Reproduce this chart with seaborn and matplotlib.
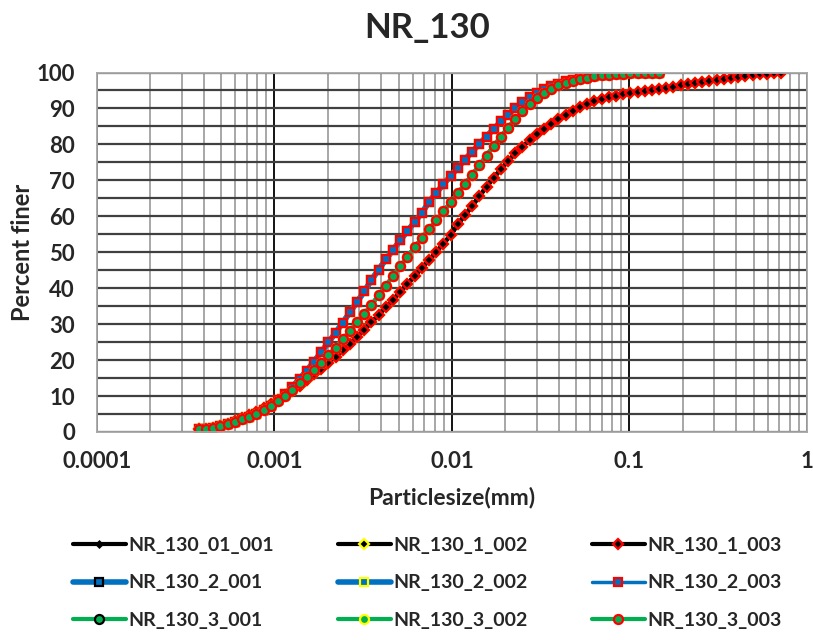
import matplotlib
matplotlib.use("Agg")
import matplotlib.pyplot as plt
from matplotlib.ticker import FixedLocator, NullFormatter
import seaborn as sns

# particle size classes (mm)
size_mm = [
    0.000375, 0.000412, 0.000452, 0.000496, 0.000545, 0.000598, 0.000657, 0.000721,
    0.000791, 0.000869, 0.000953, 0.001047, 0.001149, 0.001261, 0.001385, 0.00152,
    0.001669, 0.001832, 0.002011, 0.002208, 0.002423, 0.00266, 0.00292, 0.003206,
    0.003519, 0.003863, 0.00424, 0.004655, 0.00511, 0.00561, 0.006158, 0.00676,
    0.007421, 0.008147, 0.008943, 0.009818, 0.01078, 0.01183, 0.01299, 0.01426,
    0.01565, 0.01718, 0.01886, 0.02071, 0.02273, 0.02495, 0.02739, 0.03007,
    0.03301, 0.03624, 0.03978, 0.04367, 0.04794, 0.05262, 0.05777, 0.06341,
    0.06961, 0.07642, 0.08389, 0.09209, 0.1011, 0.111, 0.1218, 0.1337,
    0.1468, 0.1612, 0.1769, 0.1942, 0.2132, 0.2341, 0.2569, 0.2821,
    0.3096, 0.3399, 0.3731, 0.4096, 0.4497, 0.4936, 0.5419, 0.5949,
    0.653, 0.7169,
]

# percent finer, sample 1 (up to 0.72 mm)
finer_1 = [
    0.7, 0.9, 1.2, 1.7, 2.3, 3.0, 3.8, 4.7, 5.7, 6.8, 7.9, 9.0,
    10.2, 11.5, 12.9, 14.4, 16.0, 17.6, 19.3, 21.0, 22.8, 24.6, 26.5, 28.5,
    30.5, 32.6, 34.7, 36.8, 39.0, 41.2, 43.4, 45.6, 47.8, 50.1, 52.4, 54.7,
    57.8, 60.3, 62.9, 65.6, 68.2, 70.7, 73.1, 75.4, 77.5, 79.4, 81.2, 82.9,
    84.4, 85.8, 87.1, 88.3, 89.4, 90.4, 91.3, 92.0, 92.7, 93.2, 93.6, 94.0,
    94.3, 94.6, 94.9, 95.2, 95.5, 95.8, 96.1, 96.4, 96.7, 97.0, 97.3, 97.6,
    97.9, 98.2, 98.5, 98.8, 99.1, 99.3, 99.5, 99.7, 99.9, 100.0,
]

# percent finer, sample 2 (up to 0.15 mm)
finer_2 = [
    0.8, 0.9, 1.1, 1.6, 2.2, 2.8, 3.5, 4.3, 5.1, 6.1, 7.3, 8.8,
    10.6, 12.6, 14.8, 17.1, 19.6, 22.2, 24.9, 27.6, 30.4, 33.3, 36.2, 39.1,
    42.3, 45.2, 48.0, 50.7, 53.3, 55.9, 58.4, 60.9, 64.0, 66.5, 68.9, 71.2,
    73.5, 75.8, 78.0, 80.1, 82.2, 84.3, 86.4, 88.3, 90.1, 91.7, 93.1, 94.3,
    95.3, 96.2, 96.9, 97.5, 98.0, 98.4, 98.7, 99.0, 99.3, 99.5, 99.6, 99.7,
    99.8, 99.9, 100.0, 100.0, 100.0,
]

# percent finer, sample 3 (up to 0.15 mm)
finer_3 = [
    0.8, 0.9, 1.1, 1.6, 2.2, 2.8, 3.5, 4.3, 5.1, 6.1, 7.3, 8.6,
    10.1, 11.8, 13.6, 15.4, 17.3, 19.3, 21.4, 23.5, 25.8, 28.1, 30.5, 32.9,
    35.4, 38.0, 40.7, 43.4, 46.1, 48.8, 51.4, 53.9, 56.4, 58.9, 61.4, 63.9,
    66.4, 69.0, 71.6, 74.2, 76.9, 79.6, 82.2, 84.7, 87.1, 89.3, 91.3, 93.0,
    94.4, 95.5, 96.4, 97.1, 97.7, 98.2, 98.6, 98.9, 99.2, 99.4, 99.6, 99.7,
    99.8, 99.9, 100.0, 100.0, 100.0,
]

series_names = [
    "NR_130_01_001", "NR_130_1_002", "NR_130_1_003",
    "NR_130_2_001", "NR_130_2_002", "NR_130_2_003",
    "NR_130_3_001", "NR_130_3_002", "NR_130_3_003",
]
series_data = [finer_1, finer_1, finer_1,
               finer_2, finer_2, finer_2,
               finer_3, finer_3, finer_3]

# (line color, line width, marker, marker size, face, edge)
styles = [
    ("black", 3.0, "D", 3.0, "black", "black"),
    ("black", 3.0, "D", 5.0, "black", "#FFFF00"),
    ("black", 3.0, "D", 5.0, "black", "#FF0000"),
    ("#0070C0", 4.0, "s", 5.5, "#0070C0", "black"),
    ("#0070C0", 4.0, "s", 5.5, "#0070C0", "#FFFF00"),
    ("#0070C0", 2.5, "s", 5.5, "#0070C0", "#FF0000"),
    ("#00B050", 3.0, "o", 6.5, "#00B050", "black"),
    ("#00B050", 3.0, "o", 6.5, "#00B050", "#FFFF00"),
    ("#00B050", 3.0, "o", 6.5, "#00B050", "#FF0000"),
]

sns.set_style("white")
plt.rcParams['font.family'] = ['Lato', 'DejaVu Sans']

fig = plt.figure(figsize=(8.13, 6.4), dpi=100, facecolor='white')
ax = fig.add_axes([0.1193, 0.325, 0.8733, 0.5617])

for name, y, st in zip(series_names, series_data, styles):
    col, lw, mk, ms, mfc, mec = st
    sns.lineplot(x=size_mm[:len(y)], y=y, ax=ax, color=col, linewidth=lw,
                 marker=mk, markersize=ms, markerfacecolor=mfc,
                 markeredgecolor=mec, markeredgewidth=1.6,
                 label=name, legend=False, errorbar=None, sort=False)

ax.set_xscale('log')
ax.set_xlim(0.0001, 1)
ax.set_ylim(0, 100)

# grid
ax.set_xticks([0.0001, 0.001, 0.01, 0.1, 1], ["0.0001", "0.001", "0.01", "0.1", "1"])
minor_x = [m * 10.0 ** e for e in range(-4, 0) for m in range(2, 10)]
ax.xaxis.set_minor_locator(FixedLocator(minor_x))
ax.xaxis.set_minor_formatter(NullFormatter())
ax.set_yticks(range(0, 101, 10))
ax.yaxis.set_minor_locator(FixedLocator(list(range(5, 100, 10))))

ax.grid(axis='x', which='major', color='black', linewidth=1.3)
ax.grid(axis='x', which='minor', color='#a0a0a0', linewidth=1.3)
ax.grid(axis='y', which='both', color='#404040', linewidth=1.6)
ax.set_axisbelow(True)

for sp in ax.spines.values():
    sp.set_color('#a6a6a6')
    sp.set_linewidth(1.3)

ax.tick_params(axis='both', which='both', length=0, labelsize=16)
ax.tick_params(axis='x', pad=14)
ax.tick_params(axis='y', pad=16)
for lab in ax.get_xticklabels() + ax.get_yticklabels():
    lab.set_fontweight('bold')

ax.set_xlabel(None)
ax.set_ylabel(None)

fig.text(427 / 813, 1 - 28 / 640, "NR_130", ha='center', va='center',
         fontsize=25, fontweight='bold')
fig.text(452 / 813, 1 - 497 / 640, "Particlesize(mm)", ha='center', va='center',
         fontsize=16.5, fontweight='bold')
fig.text(22 / 813, 1 - 252 / 640, "Percent finer", ha='center', va='center',
         rotation=90, fontsize=17, fontweight='bold')

# legend filled row by row
handles, labels = ax.get_legend_handles_labels()
order = [0, 3, 6, 1, 4, 7, 2, 5, 8]
fig.legend([handles[i] for i in order], [labels[i] for i in order],
           loc='upper left', bbox_to_anchor=(73 / 813, 1 - 537 / 640),
           ncol=3, frameon=False, prop={'weight': 'bold', 'size': 14},
           handlelength=2.7, handletextpad=0.15, columnspacing=3.3,
           labelspacing=1.05, borderpad=0, borderaxespad=0)

fig.savefig("out.png", dpi=100, facecolor='white')
